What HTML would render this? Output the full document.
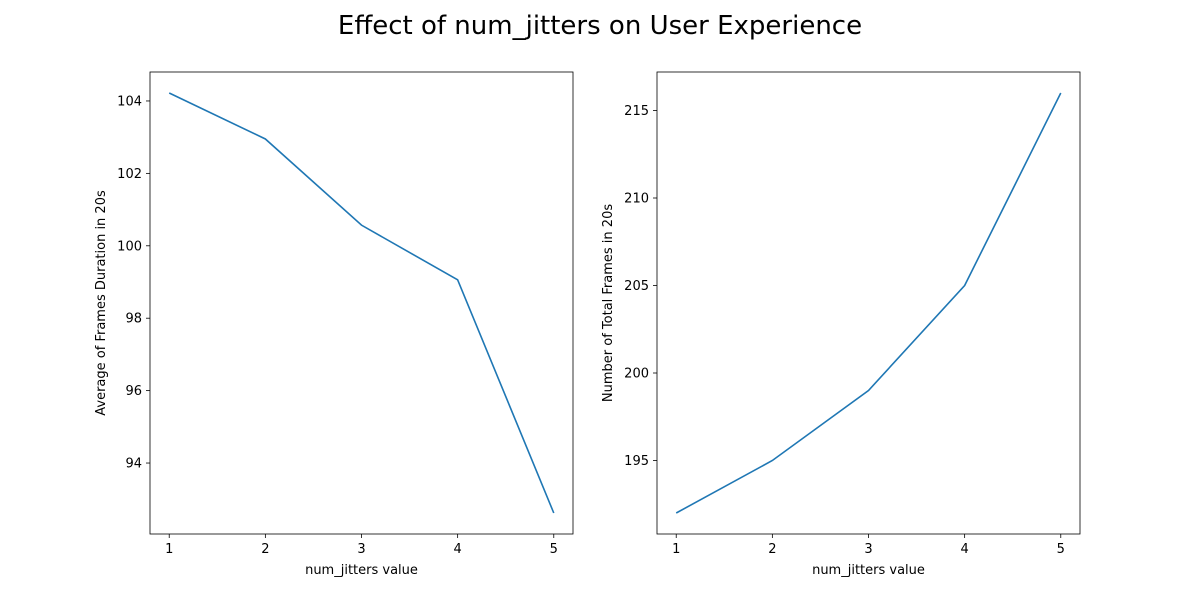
<!DOCTYPE html>
<html><head><meta charset="utf-8"><style>
body{margin:0;background:#fff;font-family:"Liberation Sans","DejaVu Sans",sans-serif;}
svg text{font-family:"DejaVu Sans","Liberation Sans",sans-serif;}
</style></head><body>
<svg id="chart" width="1200" height="600" xmlns="http://www.w3.org/2000/svg">
<rect width="1200" height="600" fill="#fff"/>
<text x="600" y="34" font-size="26" text-anchor="middle">Effect of num_jitters on User Experience</text>
</svg>
<script>
const categories=[1,2,3,4,5];
const durationValues=[104.22,102.95,100.57,99.06,92.62];
const framesValues=[192,195,199,205,216];
const leftTicks=[94,96,98,100,102,104];
const rightTicks=[195,200,205,210,215];
const svg=document.getElementById('chart');
const NS='http://www.w3.org/2000/svg';
function mk(tag,attrs,parent){const e=document.createElementNS(NS,tag);for(const k in attrs)e.setAttribute(k,attrs[k]);(parent||svg).appendChild(e);return e;}
function panel(name,x0,x1,y0,y1,vals,ticks,ylabel){
  const g=mk('g',{});
  
  
  const xmin=Math.min(...categories),xmax=Math.max(...categories),xm=(xmax-xmin)*0.05;
  const vmin=Math.min(...vals),vmax=Math.max(...vals),vm=(vmax-vmin)*0.05;
  const sx=v=>x0+(v-(xmin-xm))/((xmax+xm)-(xmin-xm))*(x1-x0);
  const sy=v=>y1-(v-(vmin-vm))/((vmax+vm)-(vmin-vm))*(y1-y0);
  categories.forEach(c=>{
    const t=mk('g',{},g);
    
    
    mk('line',{x1:sx(c),x2:sx(c),y1:y1,y2:y1+4,stroke:'#000','stroke-width':0.8},t);
    const tx=mk('text',{x:sx(c),y:y1+19,'font-size':13,'text-anchor':'middle'},t);tx.textContent=c;
  });
  ticks.forEach(v=>{
    const t=mk('g',{},g);
    
    
    mk('line',{x1:x0-4,x2:x0,y1:sy(v),y2:sy(v),stroke:'#000','stroke-width':0.8},t);
    const tx=mk('text',{x:x0-8,y:sy(v)+4.5,'font-size':13,'text-anchor':'end'},t);tx.textContent=v;
  });
  const line=mk('polyline',{points:categories.map((c,i)=>sx(c)+','+sy(vals[i])).join(' '),fill:'none',stroke:'#1f77b4','stroke-width':1.6},g);
  
  
  const fr=mk('rect',{x:x0,y:y0,width:x1-x0,height:y1-y0,fill:'none',stroke:'#000','stroke-width':0.8},g);
  
  
  const xl=mk('text',{x:(x0+x1)/2,y:y1+40,'font-size':13,'text-anchor':'middle'},g);xl.textContent='num_jitters value';
  
  
  const yl=mk('text',{x:0,y:0,'font-size':13,'text-anchor':'middle',transform:'translate('+(x0-45)+','+((y0+y1)/2)+') rotate(-90)'},g);yl.textContent=ylabel;
  
  
}
panel('left-panel',150,573,72,534,durationValues,leftTicks,'Average of Frames Duration in 20s');
panel('right-panel',657,1080,72,534,framesValues,rightTicks,'Number of Total Frames in 20s');
</script>
</body></html>
